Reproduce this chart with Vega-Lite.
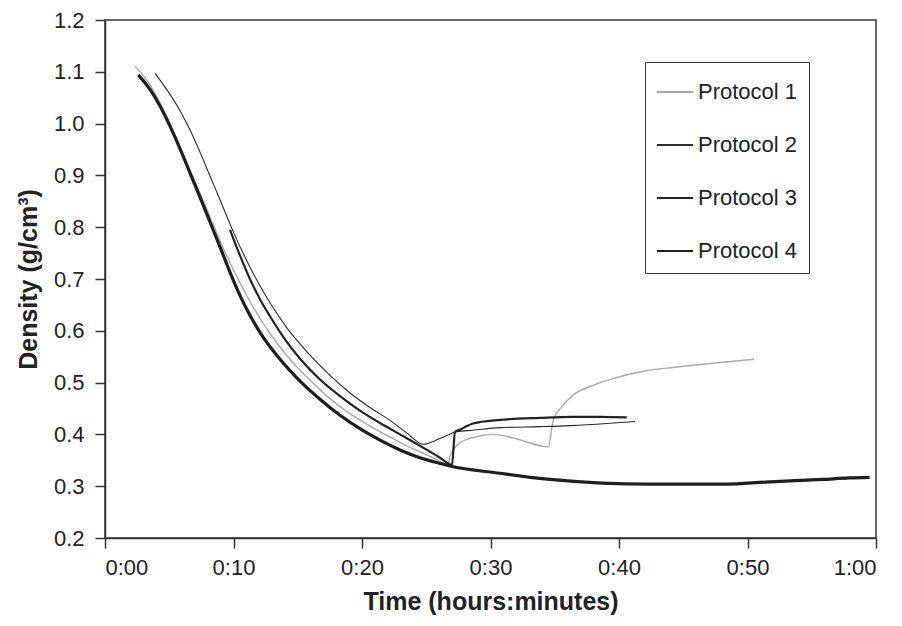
{
  "$schema": "https://vega.github.io/schema/vega-lite/v6.json",
  "width": 771,
  "height": 518,
  "autosize": {"type": "none"},
  "padding": {"left": 105, "top": 20, "right": 26, "bottom": 88},
  "background": "white",
  "config": {
    "font": "Liberation Sans",
    "view": {"stroke": "#333", "strokeWidth": 1.5},
    "axis": {"grid": false, "domainColor": "#333", "domainWidth": 1.5, "tickColor": "#333", "tickWidth": 1.5, "labelColor": "#222", "titleColor": "#222", "labelFontSize": 22, "titleFontSize": 25, "titleFontWeight": "bold"}
  },
  "data": {"values": [
    {"p": "Protocol 1", "t": 2.33, "d": 1.111},
    {"p": "Protocol 1", "t": 3.25, "d": 1.084},
    {"p": "Protocol 1", "t": 4.02, "d": 1.052},
    {"p": "Protocol 1", "t": 4.80, "d": 1.013},
    {"p": "Protocol 1", "t": 5.58, "d": 0.970},
    {"p": "Protocol 1", "t": 6.35, "d": 0.925},
    {"p": "Protocol 1", "t": 7.39, "d": 0.866},
    {"p": "Protocol 1", "t": 8.17, "d": 0.820},
    {"p": "Protocol 1", "t": 8.95, "d": 0.774},
    {"p": "Protocol 1", "t": 9.98, "d": 0.718},
    {"p": "Protocol 1", "t": 11.03, "d": 0.668},
    {"p": "Protocol 1", "t": 12.06, "d": 0.624},
    {"p": "Protocol 1", "t": 13.36, "d": 0.577},
    {"p": "Protocol 1", "t": 14.65, "d": 0.538},
    {"p": "Protocol 1", "t": 15.95, "d": 0.505},
    {"p": "Protocol 1", "t": 17.5, "d": 0.469},
    {"p": "Protocol 1", "t": 19.0, "d": 0.441},
    {"p": "Protocol 1", "t": 20.5, "d": 0.418},
    {"p": "Protocol 1", "t": 22.0, "d": 0.397},
    {"p": "Protocol 1", "t": 23.5, "d": 0.378},
    {"p": "Protocol 1", "t": 25.0, "d": 0.361},
    {"p": "Protocol 1", "t": 26.0, "d": 0.349},
    {"p": "Protocol 1", "t": 26.69, "d": 0.341},
    {"p": "Protocol 1", "t": 26.85, "d": 0.358},
    {"p": "Protocol 1", "t": 27.63, "d": 0.384},
    {"p": "Protocol 1", "t": 28.66, "d": 0.394},
    {"p": "Protocol 1", "t": 30.22, "d": 0.400},
    {"p": "Protocol 1", "t": 31.77, "d": 0.393},
    {"p": "Protocol 1", "t": 34.50, "d": 0.376},
    {"p": "Protocol 1", "t": 34.89, "d": 0.428},
    {"p": "Protocol 1", "t": 35.54, "d": 0.453},
    {"p": "Protocol 1", "t": 36.44, "d": 0.476},
    {"p": "Protocol 1", "t": 38.00, "d": 0.495},
    {"p": "Protocol 1", "t": 39.56, "d": 0.508},
    {"p": "Protocol 1", "t": 41.89, "d": 0.522},
    {"p": "Protocol 1", "t": 44.49, "d": 0.530},
    {"p": "Protocol 1", "t": 47.08, "d": 0.537},
    {"p": "Protocol 1", "t": 50.51, "d": 0.545},

    {"p": "Protocol 2", "t": 3.89, "d": 1.097},
    {"p": "Protocol 2", "t": 4.80, "d": 1.066},
    {"p": "Protocol 2", "t": 5.84, "d": 1.025},
    {"p": "Protocol 2", "t": 6.61, "d": 0.988},
    {"p": "Protocol 2", "t": 7.39, "d": 0.945},
    {"p": "Protocol 2", "t": 8.17, "d": 0.899},
    {"p": "Protocol 2", "t": 8.95, "d": 0.853},
    {"p": "Protocol 2", "t": 9.73, "d": 0.806},
    {"p": "Protocol 2", "t": 10.74, "d": 0.750},
    {"p": "Protocol 2", "t": 11.81, "d": 0.698},
    {"p": "Protocol 2", "t": 12.84, "d": 0.654},
    {"p": "Protocol 2", "t": 14.14, "d": 0.606},
    {"p": "Protocol 2", "t": 15.70, "d": 0.560},
    {"p": "Protocol 2", "t": 17.51, "d": 0.514},
    {"p": "Protocol 2", "t": 19.07, "d": 0.480},
    {"p": "Protocol 2", "t": 20.62, "d": 0.452},
    {"p": "Protocol 2", "t": 22.18, "d": 0.427},
    {"p": "Protocol 2", "t": 23.48, "d": 0.403},
    {"p": "Protocol 2", "t": 24.77, "d": 0.381},
    {"p": "Protocol 2", "t": 26.07, "d": 0.392},
    {"p": "Protocol 2", "t": 27.37, "d": 0.405},
    {"p": "Protocol 2", "t": 28.64, "d": 0.408},
    {"p": "Protocol 2", "t": 30.74, "d": 0.413},
    {"p": "Protocol 2", "t": 33.85, "d": 0.415},
    {"p": "Protocol 2", "t": 36.19, "d": 0.417},
    {"p": "Protocol 2", "t": 39.04, "d": 0.421},
    {"p": "Protocol 2", "t": 41.25, "d": 0.425},

    {"p": "Protocol 3", "t": 9.73, "d": 0.795},
    {"p": "Protocol 3", "t": 10.51, "d": 0.745},
    {"p": "Protocol 3", "t": 11.28, "d": 0.700},
    {"p": "Protocol 3", "t": 12.06, "d": 0.661},
    {"p": "Protocol 3", "t": 12.84, "d": 0.628},
    {"p": "Protocol 3", "t": 13.88, "d": 0.588},
    {"p": "Protocol 3", "t": 15.18, "d": 0.546},
    {"p": "Protocol 3", "t": 16.73, "d": 0.506},
    {"p": "Protocol 3", "t": 18.29, "d": 0.474},
    {"p": "Protocol 3", "t": 19.84, "d": 0.446},
    {"p": "Protocol 3", "t": 21.40, "d": 0.422},
    {"p": "Protocol 3", "t": 22.96, "d": 0.400},
    {"p": "Protocol 3", "t": 24.51, "d": 0.378},
    {"p": "Protocol 3", "t": 26.07, "d": 0.355},
    {"p": "Protocol 3", "t": 26.85, "d": 0.342},
    {"p": "Protocol 3", "t": 27.0, "d": 0.341},
    {"p": "Protocol 3", "t": 27.24, "d": 0.405},
    {"p": "Protocol 3", "t": 27.63, "d": 0.409},
    {"p": "Protocol 3", "t": 28.15, "d": 0.416},
    {"p": "Protocol 3", "t": 28.64, "d": 0.421},
    {"p": "Protocol 3", "t": 30.74, "d": 0.428},
    {"p": "Protocol 3", "t": 33.85, "d": 0.432},
    {"p": "Protocol 3", "t": 36.42, "d": 0.434},
    {"p": "Protocol 3", "t": 38.52, "d": 0.434},
    {"p": "Protocol 3", "t": 40.60, "d": 0.433},

    {"p": "Protocol 4", "t": 2.59, "d": 1.094},
    {"p": "Protocol 4", "t": 3.50, "d": 1.066},
    {"p": "Protocol 4", "t": 4.28, "d": 1.034},
    {"p": "Protocol 4", "t": 5.06, "d": 0.995},
    {"p": "Protocol 4", "t": 5.84, "d": 0.951},
    {"p": "Protocol 4", "t": 6.61, "d": 0.905},
    {"p": "Protocol 4", "t": 7.39, "d": 0.858},
    {"p": "Protocol 4", "t": 8.17, "d": 0.810},
    {"p": "Protocol 4", "t": 8.95, "d": 0.762},
    {"p": "Protocol 4", "t": 9.73, "d": 0.713},
    {"p": "Protocol 4", "t": 10.51, "d": 0.668},
    {"p": "Protocol 4", "t": 11.28, "d": 0.630},
    {"p": "Protocol 4", "t": 12.06, "d": 0.597},
    {"p": "Protocol 4", "t": 13.62, "d": 0.545},
    {"p": "Protocol 4", "t": 15.18, "d": 0.503},
    {"p": "Protocol 4", "t": 16.73, "d": 0.468},
    {"p": "Protocol 4", "t": 18.29, "d": 0.437},
    {"p": "Protocol 4", "t": 19.84, "d": 0.411},
    {"p": "Protocol 4", "t": 21.40, "d": 0.389},
    {"p": "Protocol 4", "t": 22.96, "d": 0.370},
    {"p": "Protocol 4", "t": 24.51, "d": 0.355},
    {"p": "Protocol 4", "t": 26.07, "d": 0.344},
    {"p": "Protocol 4", "t": 26.85, "d": 0.339},
    {"p": "Protocol 4", "t": 30.74, "d": 0.325},
    {"p": "Protocol 4", "t": 34.63, "d": 0.313},
    {"p": "Protocol 4", "t": 38.68, "d": 0.306},
    {"p": "Protocol 4", "t": 42.41, "d": 0.304},
    {"p": "Protocol 4", "t": 48.38, "d": 0.304},
    {"p": "Protocol 4", "t": 51.39, "d": 0.308},
    {"p": "Protocol 4", "t": 55.84, "d": 0.313},
    {"p": "Protocol 4", "t": 57.93, "d": 0.316},
    {"p": "Protocol 4", "t": 59.50, "d": 0.317}
  ]},
  "mark": {"type": "line", "interpolate": "monotone"},
  "encoding": {
    "x": {"field": "t", "type": "quantitative", "scale": {"domain": [0, 60], "nice": false},
      "axis": {"values": [0, 10, 20, 30, 40, 50, 60], "title": "Time (hours:minutes)", "tickSize": 10, "labelPadding": 9, "titlePadding": 11,
        "labelExpr": "floor(datum.value/60) + ':' + (datum.value % 60 < 10 ? '0' : '') + (datum.value % 60)"}},
    "y": {"field": "d", "type": "quantitative", "scale": {"domain": [0.2, 1.2], "nice": false, "zero": false},
      "axis": {"values": [0.2, 0.3, 0.4, 0.5, 0.6, 0.7, 0.8, 0.9, 1.0, 1.1, 1.2], "format": ".1f", "title": "Density (g/cm³)", "tickSize": 10, "labelPadding": 11, "titlePadding": 12}},
    "color": {"field": "p", "type": "nominal",
      "scale": {"domain": ["Protocol 1", "Protocol 2", "Protocol 3", "Protocol 4"], "range": ["#a8a8a8", "#2a2a2a", "#222222", "#1e1e1e"]},
      "legend": {"title": null, "orient": "none", "legendX": 540, "legendY": 42, "symbolType": "stroke", "symbolSize": 1296, "symbolStrokeWidth": 2, "labelFontSize": 22, "labelColor": "#222", "labelOffset": 4, "padding": 11, "rowPadding": 23, "strokeColor": "#333"}},
    "strokeWidth": {"condition": [{"test": "datum.p === 'Protocol 4'", "value": 3.2}, {"test": "datum.p === 'Protocol 3'", "value": 2.2}, {"test": "datum.p === 'Protocol 2'", "value": 1.1}], "value": 1.4}
  }
}
